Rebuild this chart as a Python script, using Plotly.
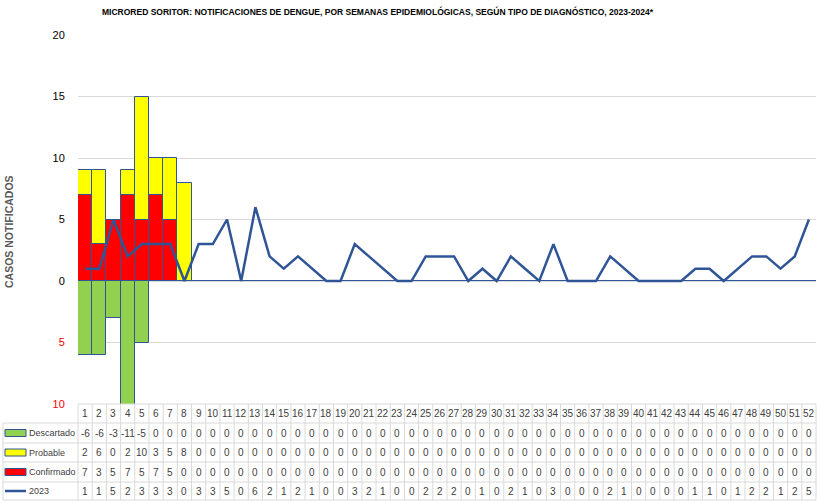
import plotly.graph_objects as go

weeks = list(range(1, 53))
descartado = [-6, -6, -3, -11, -5] + [0] * 47
probable = [2, 6, 0, 2, 10, 3, 5, 8] + [0] * 44
confirmado = [7, 3, 5, 7, 5, 7, 5, 0] + [0] * 44
casos_2023 = [1, 1, 5, 2, 3, 3, 3, 0, 3, 3, 5, 0, 6, 2, 1, 2, 1, 0, 0, 3,
              2, 1, 0, 0, 2, 2, 2, 0, 1, 0, 2, 1, 0, 3, 0, 0, 0, 2, 1, 0,
              0, 0, 0, 1, 1, 0, 1, 2, 2, 1, 2, 5]

y_tickvals = [-10, -5, 0, 5, 10, 15, 20]

title = "MICRORED SORITOR: NOTIFICACIONES DE DENGUE, POR SEMANAS EPIDEMIOLÓGICAS, SEGÚN TIPO DE DIAGNÓSTICO, 2023-2024*"

GREEN = "#92D050"
YELLOW = "#FFFF00"
RED = "#FF0000"
BLUE = "#2F5597"
GRID = "#D9D9D9"
FONT = "Liberation Sans, Arial, sans-serif"

W, H = 820, 503
L, R, T, B = 78, 4, 35, 99
PW, PH = W - L - R, H - T - B


def px_x(p):
    return (p - L) / PW


def px_y(p):
    return (H - B - p) / PH


def cat_x(k):
    return (k - 0.5) / len(weeks)


fig = go.Figure()
fig.add_trace(go.Bar(x=weeks, y=descartado, name="Descartado", marker=dict(color=GREEN, line=dict(color=BLUE, width=1))))
fig.add_trace(go.Bar(x=weeks, y=confirmado, name="Confirmado", marker=dict(color=RED, line=dict(color=BLUE, width=1))))
fig.add_trace(go.Bar(x=weeks, y=probable, name="Probable", marker=dict(color=YELLOW, line=dict(color=BLUE, width=1))))
fig.add_trace(go.Scatter(x=weeks, y=casos_2023, name="2023", mode="lines", line=dict(color=BLUE, width=2.5)))

ticktext = []
for v in y_tickvals:
    if v < 0:
        ticktext.append(f"<span style='color:#FF0000'>{abs(v)}</span>")
    else:
        ticktext.append(str(v))

shapes = []
annotations = []

row_edges = [404, 423, 443, 462, 482, 500]
rows = [
    ("Descartado", descartado, "rect", GREEN),
    ("Probable", probable, "rect", YELLOW),
    ("Confirmado", confirmado, "rect", RED),
    ("2023", casos_2023, "line", BLUE),
]
n = len(weeks)
for k in range(n + 1):
    xx = cat_x(k + 0.5)
    shapes.append(dict(type="line", xref="paper", yref="paper", x0=xx, x1=xx,
                       y0=px_y(row_edges[0]), y1=px_y(row_edges[-1]), line=dict(color=GRID, width=1)))
shapes.append(dict(type="line", xref="paper", yref="paper", x0=px_x(3), x1=px_x(3),
                   y0=px_y(row_edges[1]), y1=px_y(row_edges[-1]), line=dict(color=GRID, width=1)))
shapes.append(dict(type="line", xref="paper", yref="paper", x0=0, x1=1,
                   y0=px_y(row_edges[0]), y1=px_y(row_edges[0]), line=dict(color=GRID, width=1)))
for e in row_edges[1:]:
    shapes.append(dict(type="line", xref="paper", yref="paper", x0=px_x(3), x1=1,
                       y0=px_y(e), y1=px_y(e), line=dict(color=GRID, width=1)))

tfont = dict(family=FONT, size=10, color="#404040")
hc = (row_edges[0] + row_edges[1]) / 2
for w in weeks:
    annotations.append(dict(x=w, y=px_y(hc), xref="x", yref="paper", text=str(w), showarrow=False,
                            font=tfont, xanchor="center", yanchor="middle"))
for i, (name, vals, kind, col) in enumerate(rows):
    c = (row_edges[i + 1] + row_edges[i + 2]) / 2
    for w, v in zip(weeks, vals):
        annotations.append(dict(x=w, y=px_y(c), xref="x", yref="paper", text=str(v), showarrow=False,
                                font=tfont, xanchor="center", yanchor="middle"))
    annotations.append(dict(x=px_x(27), y=px_y(c), xref="paper", yref="paper", text=name, showarrow=False,
                            font=dict(family=FONT, size=9, color="#404040"), xanchor="left", yanchor="middle"))
    if kind == "rect":
        shapes.append(dict(type="rect", xref="paper", yref="paper", x0=px_x(5), x1=px_x(26),
                           y0=px_y(c - 3.5), y1=px_y(c + 3.5), fillcolor=col, line=dict(color=BLUE, width=1)))
    else:
        shapes.append(dict(type="line", xref="paper", yref="paper", x0=px_x(5), x1=px_x(26),
                           y0=px_y(c), y1=px_y(c), line=dict(color=col, width=2.5)))

annotations.append(dict(x=px_x(378), y=px_y(12), xref="paper", yref="paper", text=f"<b>{title}</b>",
                        showarrow=False, font=dict(family=FONT, size=8.5, color="#000000"),
                        xanchor="center", yanchor="middle"))
annotations.append(dict(x=px_x(9), y=px_y(232), xref="paper", yref="paper", text="<b>CASOS NOTIFICADOS</b>",
                        showarrow=False, textangle=-90, font=dict(family=FONT, size=10.5, color="#595959"),
                        xanchor="center", yanchor="middle"))

fig.update_layout(
    width=W, height=H,
    margin=dict(l=L, r=R, t=T, b=B),
    barmode="relative", bargap=0,
    showlegend=False,
    plot_bgcolor="white", paper_bgcolor="white",
    xaxis=dict(range=[0.5, n + 0.5], showticklabels=False, showgrid=False, zeroline=False, ticks=""),
    yaxis=dict(range=[-10, 20], tickvals=y_tickvals, ticktext=ticktext, showgrid=True, gridcolor=GRID,
               zeroline=True, zerolinecolor=GRID, zerolinewidth=1,
               ticks="outside", ticklen=10, tickcolor="rgba(0,0,0,0)",
               tickprefix="<b>", ticksuffix="</b>",
               tickfont=dict(family=FONT, size=11, color="#000000")),
    shapes=shapes,
    annotations=annotations,
    font=dict(family=FONT),
)

fig.write_html("out.html", config={"displayModeBar": False},
               post_script="document.body.style.margin='0';document.body.style.overflow='hidden';")
